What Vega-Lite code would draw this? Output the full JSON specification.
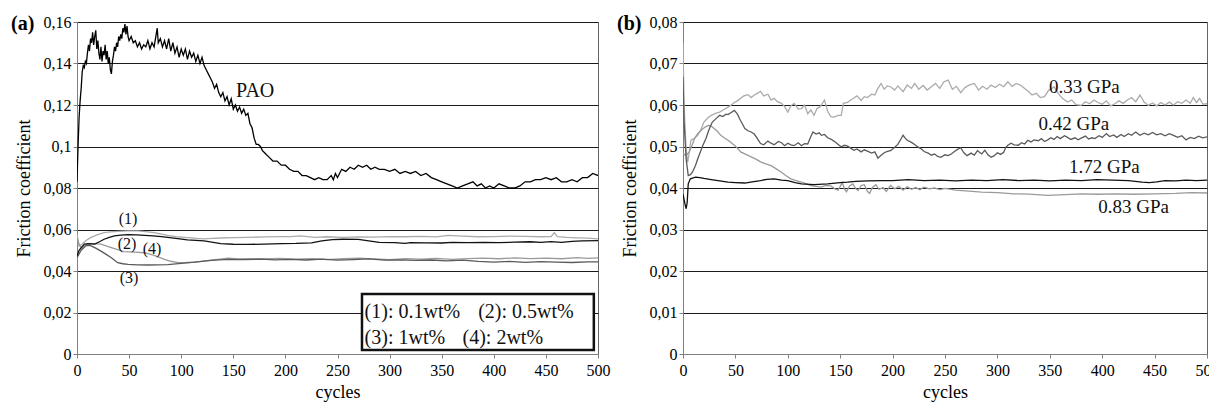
{
"$schema": "https://vega.github.io/schema/vega-lite/v6.json",
"background": "white",
"padding": {"left": 10, "top": 13, "right": 0, "bottom": 0},
"spacing": 5,
"config": {
  "view": {"stroke": "#666", "strokeWidth": 1},
  "font": "'Liberation Serif', 'Times New Roman', serif",
  "axis": {"labelFont": "'Liberation Serif', 'Times New Roman', serif", "titleFont": "'Liberation Serif', 'Times New Roman', serif", "labelFontSize": 16, "titleFontSize": 18, "titleFontWeight": "normal", "labelColor": "#000", "titleColor": "#000", "domainColor": "#808080", "tickColor": "#808080", "tickSize": 4, "gridColor": "#1a1a1a", "gridOpacity": 1, "gridWidth": 1},
  "title": {"font": "'Liberation Serif', 'Times New Roman', serif", "fontSize": 20, "fontWeight": "bold", "anchor": "start", "frame": "bounds", "color": "#000"},
  "text": {"font": "'Liberation Serif', 'Times New Roman', serif"}
},
"datasets": {
  "a": [
{"s":"P1","c":0,"f":0.0576},{"s":"P1","c":2,"f":0.052},{"s":"P1","c":5,"f":0.053},{"s":"P1","c":9,"f":0.0548},{"s":"P1","c":13,"f":0.0561},{"s":"P1","c":18,"f":0.0572},{"s":"P1","c":22,"f":0.0579},{"s":"P1","c":26,"f":0.0585},{"s":"P1","c":32,"f":0.0589},{"s":"P1","c":39,"f":0.0591},{"s":"P1","c":48,"f":0.0593},{"s":"P1","c":58,"f":0.0593},{"s":"P1","c":66,"f":0.059},{"s":"P1","c":74,"f":0.0585},{"s":"P1","c":80,"f":0.0579},{"s":"P1","c":87,"f":0.0572},{"s":"P1","c":95,"f":0.0566},{"s":"P1","c":106,"f":0.0561},{"s":"P1","c":115,"f":0.0557},{"s":"P1","c":122,"f":0.0555},{"s":"P1","c":130,"f":0.0557},{"s":"P1","c":138,"f":0.0559},{"s":"P1","c":150,"f":0.0561},{"s":"P1","c":164,"f":0.0562},{"s":"P1","c":180,"f":0.0564},{"s":"P1","c":195,"f":0.0566},{"s":"P1","c":205,"f":0.0566},{"s":"P1","c":215,"f":0.0569},{"s":"P1","c":228,"f":0.0562},{"s":"P1","c":240,"f":0.0565},{"s":"P1","c":255,"f":0.0562},{"s":"P1","c":270,"f":0.0564},{"s":"P1","c":285,"f":0.0563},{"s":"P1","c":300,"f":0.0566},{"s":"P1","c":315,"f":0.0565},{"s":"P1","c":330,"f":0.0567},{"s":"P1","c":345,"f":0.0564},{"s":"P1","c":356,"f":0.0572},{"s":"P1","c":370,"f":0.0568},{"s":"P1","c":385,"f":0.0565},{"s":"P1","c":400,"f":0.0566},{"s":"P1","c":415,"f":0.0568},{"s":"P1","c":430,"f":0.0567},{"s":"P1","c":445,"f":0.0565},{"s":"P1","c":455,"f":0.0566},{"s":"P1","c":458,"f":0.0585},{"s":"P1","c":461,"f":0.0566},{"s":"P1","c":470,"f":0.0562},{"s":"P1","c":480,"f":0.056},{"s":"P1","c":490,"f":0.0558},{"s":"P1","c":500,"f":0.0555},
{"s":"P4","c":0,"f":0.056},{"s":"P4","c":2,"f":0.053},{"s":"P4","c":4,"f":0.0512},{"s":"P4","c":10,"f":0.053},{"s":"P4","c":16,"f":0.0532},{"s":"P4","c":23,"f":0.053},{"s":"P4","c":30,"f":0.0518},{"s":"P4","c":36,"f":0.0508},{"s":"P4","c":45,"f":0.0493},{"s":"P4","c":55,"f":0.0491},{"s":"P4","c":65,"f":0.0488},{"s":"P4","c":74,"f":0.0475},{"s":"P4","c":84,"f":0.0456},{"s":"P4","c":90,"f":0.0447},{"s":"P4","c":97,"f":0.044},{"s":"P4","c":105,"f":0.0441},{"s":"P4","c":113,"f":0.0443},{"s":"P4","c":129,"f":0.0452},{"s":"P4","c":145,"f":0.0462},{"s":"P4","c":155,"f":0.0458},{"s":"P4","c":164,"f":0.046},{"s":"P4","c":180,"f":0.0458},{"s":"P4","c":195,"f":0.0461},{"s":"P4","c":210,"f":0.0457},{"s":"P4","c":225,"f":0.046},{"s":"P4","c":240,"f":0.0455},{"s":"P4","c":255,"f":0.0459},{"s":"P4","c":270,"f":0.0462},{"s":"P4","c":285,"f":0.0458},{"s":"P4","c":300,"f":0.0455},{"s":"P4","c":315,"f":0.046},{"s":"P4","c":330,"f":0.0457},{"s":"P4","c":345,"f":0.0461},{"s":"P4","c":360,"f":0.0456},{"s":"P4","c":375,"f":0.046},{"s":"P4","c":390,"f":0.0462},{"s":"P4","c":405,"f":0.0459},{"s":"P4","c":420,"f":0.0463},{"s":"P4","c":435,"f":0.046},{"s":"P4","c":450,"f":0.0462},{"s":"P4","c":465,"f":0.0459},{"s":"P4","c":480,"f":0.0464},{"s":"P4","c":490,"f":0.0461},{"s":"P4","c":500,"f":0.0463},
{"s":"P3","c":0,"f":0.0464},{"s":"P3","c":4,"f":0.05},{"s":"P3","c":9,"f":0.0524},{"s":"P3","c":13,"f":0.0522},{"s":"P3","c":18,"f":0.051},{"s":"P3","c":23,"f":0.0496},{"s":"P3","c":28,"f":0.048},{"s":"P3","c":33,"f":0.0464},{"s":"P3","c":39,"f":0.044},{"s":"P3","c":44,"f":0.0435},{"s":"P3","c":49,"f":0.0432},{"s":"P3","c":58,"f":0.043},{"s":"P3","c":68,"f":0.0429},{"s":"P3","c":78,"f":0.043},{"s":"P3","c":87,"f":0.0431},{"s":"P3","c":100,"f":0.0437},{"s":"P3","c":113,"f":0.0443},{"s":"P3","c":129,"f":0.0451},{"s":"P3","c":145,"f":0.0456},{"s":"P3","c":160,"f":0.0455},{"s":"P3","c":177,"f":0.0457},{"s":"P3","c":190,"f":0.0454},{"s":"P3","c":205,"f":0.0456},{"s":"P3","c":220,"f":0.0453},{"s":"P3","c":235,"f":0.0457},{"s":"P3","c":250,"f":0.0452},{"s":"P3","c":265,"f":0.0455},{"s":"P3","c":280,"f":0.0458},{"s":"P3","c":295,"f":0.0452},{"s":"P3","c":310,"f":0.0454},{"s":"P3","c":325,"f":0.0451},{"s":"P3","c":340,"f":0.0453},{"s":"P3","c":355,"f":0.0449},{"s":"P3","c":370,"f":0.0452},{"s":"P3","c":385,"f":0.0446},{"s":"P3","c":400,"f":0.0443},{"s":"P3","c":415,"f":0.0446},{"s":"P3","c":430,"f":0.0442},{"s":"P3","c":445,"f":0.0445},{"s":"P3","c":460,"f":0.0443},{"s":"P3","c":475,"f":0.0441},{"s":"P3","c":490,"f":0.0444},{"s":"P3","c":500,"f":0.0444},
{"s":"P2","c":0,"f":0.0472},{"s":"P2","c":2,"f":0.05},{"s":"P2","c":7,"f":0.053},{"s":"P2","c":12,"f":0.0532},{"s":"P2","c":17,"f":0.053},{"s":"P2","c":22,"f":0.0542},{"s":"P2","c":26,"f":0.0553},{"s":"P2","c":31,"f":0.0562},{"s":"P2","c":36,"f":0.0569},{"s":"P2","c":42,"f":0.0573},{"s":"P2","c":49,"f":0.0575},{"s":"P2","c":57,"f":0.0574},{"s":"P2","c":65,"f":0.0572},{"s":"P2","c":73,"f":0.0569},{"s":"P2","c":81,"f":0.0566},{"s":"P2","c":93,"f":0.0558},{"s":"P2","c":106,"f":0.055},{"s":"P2","c":122,"f":0.0545},{"s":"P2","c":138,"f":0.0532},{"s":"P2","c":150,"f":0.0529},{"s":"P2","c":164,"f":0.0528},{"s":"P2","c":180,"f":0.053},{"s":"P2","c":196,"f":0.0532},{"s":"P2","c":210,"f":0.0533},{"s":"P2","c":225,"f":0.0536},{"s":"P2","c":235,"f":0.0545},{"s":"P2","c":245,"f":0.0551},{"s":"P2","c":255,"f":0.0553},{"s":"P2","c":270,"f":0.0552},{"s":"P2","c":280,"f":0.0545},{"s":"P2","c":290,"f":0.0538},{"s":"P2","c":305,"f":0.0537},{"s":"P2","c":315,"f":0.0533},{"s":"P2","c":320,"f":0.0537},{"s":"P2","c":335,"f":0.0536},{"s":"P2","c":350,"f":0.0535},{"s":"P2","c":360,"f":0.0538},{"s":"P2","c":375,"f":0.0537},{"s":"P2","c":390,"f":0.0538},{"s":"P2","c":405,"f":0.0537},{"s":"P2","c":420,"f":0.0539},{"s":"P2","c":435,"f":0.0541},{"s":"P2","c":445,"f":0.0538},{"s":"P2","c":455,"f":0.0542},{"s":"P2","c":465,"f":0.0538},{"s":"P2","c":475,"f":0.0543},{"s":"P2","c":485,"f":0.0545},{"s":"P2","c":500,"f":0.0546},
{"s":"PAO","c":0,"f":0.083},{"s":"PAO","c":1,"f":0.1},{"s":"PAO","c":2,"f":0.114},{"s":"PAO","c":3,"f":0.122},{"s":"PAO","c":4,"f":0.128},{"s":"PAO","c":5,"f":0.136},{"s":"PAO","c":6,"f":0.139},{"s":"PAO","c":7,"f":0.138},{"s":"PAO","c":8,"f":0.141},{"s":"PAO","c":9,"f":0.14},{"s":"PAO","c":10,"f":0.145},{"s":"PAO","c":11,"f":0.149},{"s":"PAO","c":12,"f":0.146},{"s":"PAO","c":13,"f":0.152},{"s":"PAO","c":14,"f":0.15},{"s":"PAO","c":15,"f":0.155},{"s":"PAO","c":16,"f":0.149},{"s":"PAO","c":17,"f":0.153},{"s":"PAO","c":18,"f":0.156},{"s":"PAO","c":19,"f":0.147},{"s":"PAO","c":20,"f":0.151},{"s":"PAO","c":21,"f":0.145},{"s":"PAO","c":22,"f":0.142},{"s":"PAO","c":23,"f":0.148},{"s":"PAO","c":24,"f":0.141},{"s":"PAO","c":25,"f":0.146},{"s":"PAO","c":26,"f":0.144},{"s":"PAO","c":27,"f":0.149},{"s":"PAO","c":28,"f":0.142},{"s":"PAO","c":29,"f":0.146},{"s":"PAO","c":30,"f":0.14},{"s":"PAO","c":31,"f":0.143},{"s":"PAO","c":32,"f":0.137},{"s":"PAO","c":33,"f":0.135},{"s":"PAO","c":34,"f":0.141},{"s":"PAO","c":35,"f":0.144},{"s":"PAO","c":36,"f":0.148},{"s":"PAO","c":37,"f":0.146},{"s":"PAO","c":38,"f":0.15},{"s":"PAO","c":39,"f":0.148},{"s":"PAO","c":40,"f":0.153},{"s":"PAO","c":41,"f":0.151},{"s":"PAO","c":42,"f":0.154},{"s":"PAO","c":43,"f":0.152},{"s":"PAO","c":44,"f":0.157},{"s":"PAO","c":45,"f":0.155},{"s":"PAO","c":46,"f":0.159},{"s":"PAO","c":47,"f":0.154},{"s":"PAO","c":48,"f":0.158},{"s":"PAO","c":49,"f":0.153},{"s":"PAO","c":50,"f":0.151},{"s":"PAO","c":52,"f":0.153},{"s":"PAO","c":54,"f":0.15},{"s":"PAO","c":56,"f":0.151},{"s":"PAO","c":58,"f":0.148},{"s":"PAO","c":60,"f":0.15},{"s":"PAO","c":62,"f":0.147},{"s":"PAO","c":64,"f":0.149},{"s":"PAO","c":66,"f":0.148},{"s":"PAO","c":68,"f":0.151},{"s":"PAO","c":70,"f":0.147},{"s":"PAO","c":72,"f":0.15},{"s":"PAO","c":74,"f":0.148},{"s":"PAO","c":76,"f":0.154},{"s":"PAO","c":77,"f":0.157},{"s":"PAO","c":78,"f":0.15},{"s":"PAO","c":80,"f":0.152},{"s":"PAO","c":82,"f":0.148},{"s":"PAO","c":84,"f":0.151},{"s":"PAO","c":86,"f":0.147},{"s":"PAO","c":88,"f":0.152},{"s":"PAO","c":90,"f":0.146},{"s":"PAO","c":92,"f":0.15},{"s":"PAO","c":94,"f":0.145},{"s":"PAO","c":96,"f":0.148},{"s":"PAO","c":98,"f":0.143},{"s":"PAO","c":100,"f":0.147},{"s":"PAO","c":102,"f":0.144},{"s":"PAO","c":104,"f":0.147},{"s":"PAO","c":106,"f":0.142},{"s":"PAO","c":108,"f":0.146},{"s":"PAO","c":110,"f":0.143},{"s":"PAO","c":112,"f":0.145},{"s":"PAO","c":114,"f":0.141},{"s":"PAO","c":116,"f":0.144},{"s":"PAO","c":118,"f":0.14},{"s":"PAO","c":120,"f":0.143},{"s":"PAO","c":122,"f":0.139},{"s":"PAO","c":124,"f":0.137},{"s":"PAO","c":126,"f":0.135},{"s":"PAO","c":128,"f":0.133},{"s":"PAO","c":130,"f":0.131},{"s":"PAO","c":132,"f":0.128},{"s":"PAO","c":134,"f":0.13},{"s":"PAO","c":136,"f":0.126},{"s":"PAO","c":138,"f":0.124},{"s":"PAO","c":140,"f":0.126},{"s":"PAO","c":142,"f":0.122},{"s":"PAO","c":144,"f":0.124},{"s":"PAO","c":146,"f":0.12},{"s":"PAO","c":148,"f":0.123},{"s":"PAO","c":150,"f":0.118},{"s":"PAO","c":152,"f":0.12},{"s":"PAO","c":154,"f":0.117},{"s":"PAO","c":156,"f":0.119},{"s":"PAO","c":158,"f":0.116},{"s":"PAO","c":160,"f":0.118},{"s":"PAO","c":162,"f":0.115},{"s":"PAO","c":164,"f":0.116},{"s":"PAO","c":166,"f":0.111},{"s":"PAO","c":168,"f":0.109},{"s":"PAO","c":170,"f":0.104},{"s":"PAO","c":172,"f":0.101},{"s":"PAO","c":174,"f":0.101},{"s":"PAO","c":176,"f":0.1},{"s":"PAO","c":178,"f":0.098},{"s":"PAO","c":180,"f":0.097},{"s":"PAO","c":184,"f":0.095},{"s":"PAO","c":188,"f":0.093},{"s":"PAO","c":192,"f":0.093},{"s":"PAO","c":196,"f":0.091},{"s":"PAO","c":200,"f":0.091},{"s":"PAO","c":204,"f":0.089},{"s":"PAO","c":208,"f":0.088},{"s":"PAO","c":212,"f":0.088},{"s":"PAO","c":216,"f":0.086},{"s":"PAO","c":220,"f":0.086},{"s":"PAO","c":224,"f":0.085},{"s":"PAO","c":228,"f":0.084},{"s":"PAO","c":232,"f":0.085},{"s":"PAO","c":236,"f":0.084},{"s":"PAO","c":240,"f":0.084},{"s":"PAO","c":244,"f":0.086},{"s":"PAO","c":246,"f":0.084},{"s":"PAO","c":248,"f":0.087},{"s":"PAO","c":250,"f":0.085},{"s":"PAO","c":254,"f":0.089},{"s":"PAO","c":258,"f":0.088},{"s":"PAO","c":262,"f":0.09},{"s":"PAO","c":266,"f":0.089},{"s":"PAO","c":270,"f":0.091},{"s":"PAO","c":274,"f":0.09},{"s":"PAO","c":278,"f":0.091},{"s":"PAO","c":282,"f":0.089},{"s":"PAO","c":286,"f":0.09},{"s":"PAO","c":290,"f":0.089},{"s":"PAO","c":295,"f":0.089},{"s":"PAO","c":300,"f":0.088},{"s":"PAO","c":305,"f":0.089},{"s":"PAO","c":310,"f":0.087},{"s":"PAO","c":315,"f":0.088},{"s":"PAO","c":320,"f":0.087},{"s":"PAO","c":325,"f":0.088},{"s":"PAO","c":330,"f":0.086},{"s":"PAO","c":335,"f":0.087},{"s":"PAO","c":340,"f":0.085},{"s":"PAO","c":345,"f":0.084},{"s":"PAO","c":350,"f":0.083},{"s":"PAO","c":355,"f":0.082},{"s":"PAO","c":360,"f":0.081},{"s":"PAO","c":365,"f":0.08},{"s":"PAO","c":370,"f":0.081},{"s":"PAO","c":375,"f":0.082},{"s":"PAO","c":380,"f":0.083},{"s":"PAO","c":384,"f":0.081},{"s":"PAO","c":388,"f":0.082},{"s":"PAO","c":392,"f":0.08},{"s":"PAO","c":396,"f":0.081},{"s":"PAO","c":400,"f":0.08},{"s":"PAO","c":405,"f":0.082},{"s":"PAO","c":410,"f":0.081},{"s":"PAO","c":415,"f":0.08},{"s":"PAO","c":420,"f":0.08},{"s":"PAO","c":425,"f":0.081},{"s":"PAO","c":430,"f":0.083},{"s":"PAO","c":435,"f":0.083},{"s":"PAO","c":440,"f":0.084},{"s":"PAO","c":445,"f":0.084},{"s":"PAO","c":450,"f":0.085},{"s":"PAO","c":455,"f":0.084},{"s":"PAO","c":460,"f":0.085},{"s":"PAO","c":465,"f":0.083},{"s":"PAO","c":470,"f":0.083},{"s":"PAO","c":475,"f":0.084},{"s":"PAO","c":480,"f":0.083},{"s":"PAO","c":485,"f":0.085},{"s":"PAO","c":490,"f":0.085},{"s":"PAO","c":495,"f":0.087},{"s":"PAO","c":500,"f":0.086}
  ],
  "aLabels": [
    {"t":"PAO","c":171,"f":0.1267,"size":"big"},
    {"t":"(1)","c":49,"f":0.065,"size":"small"},
    {"t":"(2)","c":48,"f":0.053,"size":"small"},
    {"t":"(4)","c":72,"f":0.0506,"size":"small"},
    {"t":"(3)","c":50,"f":0.0366,"size":"small"}
  ],
  "aBox": [{"c":273.5,"c2":496,"f":0.0289,"f2":0.0019}],
  "aLegend": [
    {"t":"(1): 0.1wt%","c":276,"f":0.0202},
    {"t":"(2): 0.5wt%","c":385,"f":0.0202},
    {"t":"(3): 1wt%","c":276,"f":0.0077},
    {"t":"(4): 2wt%","c":370,"f":0.0077}
  ],
  "b": [
{"s":"0.33","c":0,"f":0.075},{"s":"0.33","c":1,"f":0.06},{"s":"0.33","c":3,"f":0.049},{"s":"0.33","c":4.5,"f":0.0462},{"s":"0.33","c":7.6,"f":0.0515},{"s":"0.33","c":11,"f":0.052},{"s":"0.33","c":14,"f":0.0527},{"s":"0.33","c":17,"f":0.054},{"s":"0.33","c":20,"f":0.0559},{"s":"0.33","c":24,"f":0.057},{"s":"0.33","c":27,"f":0.0575},{"s":"0.33","c":31,"f":0.058},{"s":"0.33","c":35,"f":0.0583},{"s":"0.33","c":39,"f":0.0589},{"s":"0.33","c":43,"f":0.0595},{"s":"0.33","c":46,"f":0.06},{"s":"0.33","c":49,"f":0.0606},{"s":"0.33","c":52,"f":0.061},{"s":"0.33","c":55,"f":0.0616},{"s":"0.33","c":58,"f":0.0622},{"s":"0.33","c":62,"f":0.0625},{"s":"0.33","c":65,"f":0.0618},{"s":"0.33","c":68,"f":0.0624},{"s":"0.33","c":71,"f":0.0628},{"s":"0.33","c":74,"f":0.0633},{"s":"0.33","c":77,"f":0.0622},{"s":"0.33","c":81,"f":0.0626},{"s":"0.33","c":84,"f":0.0612},{"s":"0.33","c":87,"f":0.0616},{"s":"0.33","c":90,"f":0.0608},{"s":"0.33","c":94,"f":0.0604},{"s":"0.33","c":97,"f":0.0596},{"s":"0.33","c":100,"f":0.0583},{"s":"0.33","c":103,"f":0.0598},{"s":"0.33","c":106,"f":0.0604},{"s":"0.33","c":110,"f":0.059},{"s":"0.33","c":113,"f":0.0591},{"s":"0.33","c":116,"f":0.06},{"s":"0.33","c":119,"f":0.0579},{"s":"0.33","c":122,"f":0.0588},{"s":"0.33","c":125,"f":0.0575},{"s":"0.33","c":128,"f":0.0592},{"s":"0.33","c":131,"f":0.0596},{"s":"0.33","c":135,"f":0.0612},{"s":"0.33","c":138,"f":0.0585},{"s":"0.33","c":141,"f":0.0572},{"s":"0.33","c":144,"f":0.0571},{"s":"0.33","c":148,"f":0.0575},{"s":"0.33","c":151,"f":0.0575},{"s":"0.33","c":153,"f":0.0604},{"s":"0.33","c":157,"f":0.0606},{"s":"0.33","c":160,"f":0.0612},{"s":"0.33","c":163,"f":0.0617},{"s":"0.33","c":166,"f":0.0622},{"s":"0.33","c":170,"f":0.0611},{"s":"0.33","c":173,"f":0.062},{"s":"0.33","c":176,"f":0.0618},{"s":"0.33","c":180,"f":0.0626},{"s":"0.33","c":183,"f":0.0624},{"s":"0.33","c":186,"f":0.064},{"s":"0.33","c":189,"f":0.0652},{"s":"0.33","c":192,"f":0.0638},{"s":"0.33","c":195,"f":0.0646},{"s":"0.33","c":198,"f":0.0644},{"s":"0.33","c":202,"f":0.0636},{"s":"0.33","c":205,"f":0.0646},{"s":"0.33","c":210,"f":0.0632},{"s":"0.33","c":214,"f":0.0648},{"s":"0.33","c":218,"f":0.064},{"s":"0.33","c":221,"f":0.0652},{"s":"0.33","c":225,"f":0.0638},{"s":"0.33","c":229,"f":0.0647},{"s":"0.33","c":233,"f":0.0636},{"s":"0.33","c":237,"f":0.0644},{"s":"0.33","c":241,"f":0.0652},{"s":"0.33","c":245,"f":0.064},{"s":"0.33","c":249,"f":0.0656},{"s":"0.33","c":253,"f":0.066},{"s":"0.33","c":257,"f":0.0638},{"s":"0.33","c":261,"f":0.0645},{"s":"0.33","c":265,"f":0.063},{"s":"0.33","c":269,"f":0.0642},{"s":"0.33","c":273,"f":0.0648},{"s":"0.33","c":278,"f":0.0652},{"s":"0.33","c":282,"f":0.0636},{"s":"0.33","c":286,"f":0.0645},{"s":"0.33","c":290,"f":0.0638},{"s":"0.33","c":294,"f":0.0648},{"s":"0.33","c":298,"f":0.0642},{"s":"0.33","c":302,"f":0.065},{"s":"0.33","c":306,"f":0.0644},{"s":"0.33","c":310,"f":0.0656},{"s":"0.33","c":314,"f":0.0645},{"s":"0.33","c":318,"f":0.0652},{"s":"0.33","c":322,"f":0.0648},{"s":"0.33","c":326,"f":0.064},{"s":"0.33","c":330,"f":0.0632},{"s":"0.33","c":333,"f":0.0624},{"s":"0.33","c":337,"f":0.0628},{"s":"0.33","c":341,"f":0.0618},{"s":"0.33","c":345,"f":0.062},{"s":"0.33","c":349,"f":0.0636},{"s":"0.33","c":352,"f":0.064},{"s":"0.33","c":354,"f":0.0644},{"s":"0.33","c":358,"f":0.0628},{"s":"0.33","c":362,"f":0.0616},{"s":"0.33","c":367,"f":0.0607},{"s":"0.33","c":371,"f":0.0612},{"s":"0.33","c":375,"f":0.0601},{"s":"0.33","c":380,"f":0.0599},{"s":"0.33","c":384,"f":0.0608},{"s":"0.33","c":388,"f":0.0603},{"s":"0.33","c":392,"f":0.0612},{"s":"0.33","c":396,"f":0.0606},{"s":"0.33","c":400,"f":0.0602},{"s":"0.33","c":404,"f":0.061},{"s":"0.33","c":408,"f":0.0598},{"s":"0.33","c":412,"f":0.0603},{"s":"0.33","c":416,"f":0.061},{"s":"0.33","c":420,"f":0.0604},{"s":"0.33","c":424,"f":0.0612},{"s":"0.33","c":428,"f":0.0618},{"s":"0.33","c":432,"f":0.0608},{"s":"0.33","c":436,"f":0.0624},{"s":"0.33","c":440,"f":0.0607},{"s":"0.33","c":444,"f":0.0599},{"s":"0.33","c":448,"f":0.0605},{"s":"0.33","c":452,"f":0.0598},{"s":"0.33","c":456,"f":0.0606},{"s":"0.33","c":460,"f":0.06},{"s":"0.33","c":464,"f":0.0607},{"s":"0.33","c":468,"f":0.06},{"s":"0.33","c":472,"f":0.0608},{"s":"0.33","c":476,"f":0.0604},{"s":"0.33","c":480,"f":0.0612},{"s":"0.33","c":484,"f":0.0604},{"s":"0.33","c":487,"f":0.0618},{"s":"0.33","c":490,"f":0.0606},{"s":"0.33","c":493,"f":0.0616},{"s":"0.33","c":496,"f":0.0602},{"s":"0.33","c":500,"f":0.0603},
{"s":"0.83","c":0,"f":0.0482},{"s":"0.83","c":3,"f":0.0479},{"s":"0.83","c":6,"f":0.0487},{"s":"0.83","c":9,"f":0.0505},{"s":"0.83","c":11,"f":0.0519},{"s":"0.83","c":14,"f":0.0531},{"s":"0.83","c":17,"f":0.0538},{"s":"0.83","c":19,"f":0.0543},{"s":"0.83","c":22,"f":0.0548},{"s":"0.83","c":24,"f":0.0551},{"s":"0.83","c":27,"f":0.0549},{"s":"0.83","c":30,"f":0.0543},{"s":"0.83","c":33,"f":0.0536},{"s":"0.83","c":36,"f":0.0527},{"s":"0.83","c":40,"f":0.052},{"s":"0.83","c":43,"f":0.0515},{"s":"0.83","c":46,"f":0.0509},{"s":"0.83","c":49,"f":0.0503},{"s":"0.83","c":52,"f":0.0496},{"s":"0.83","c":55,"f":0.0487},{"s":"0.83","c":60,"f":0.0481},{"s":"0.83","c":65,"f":0.0475},{"s":"0.83","c":70,"f":0.0469},{"s":"0.83","c":74,"f":0.0463},{"s":"0.83","c":79,"f":0.0458},{"s":"0.83","c":84,"f":0.0454},{"s":"0.83","c":89,"f":0.0446},{"s":"0.83","c":94,"f":0.0438},{"s":"0.83","c":98,"f":0.043},{"s":"0.83","c":103,"f":0.0422},{"s":"0.83","c":108,"f":0.0418},{"s":"0.83","c":113,"f":0.0414},{"s":"0.83","c":118,"f":0.041},{"s":"0.83","c":122,"f":0.0406},{"s":"0.83","c":127,"f":0.0404},{"s":"0.83","c":132,"f":0.0402},{"s":"0.83","c":136,"f":0.0406},{"s":"0.83","c":141,"f":0.0405},{"s":"0.83","c":145,"f":0.0398},{"s":"0.83","c":148,"f":0.0395},{"s":"0.83","c":150,"f":0.0404},{"s":"0.83","c":152,"f":0.0413},{"s":"0.83","c":154,"f":0.0398},{"s":"0.83","c":156,"f":0.0391},{"s":"0.83","c":159,"f":0.0405},{"s":"0.83","c":162,"f":0.041},{"s":"0.83","c":165,"f":0.0398},{"s":"0.83","c":167,"f":0.0394},{"s":"0.83","c":170,"f":0.0406},{"s":"0.83","c":173,"f":0.0408},{"s":"0.83","c":176,"f":0.0392},{"s":"0.83","c":178,"f":0.0387},{"s":"0.83","c":181,"f":0.0402},{"s":"0.83","c":184,"f":0.0408},{"s":"0.83","c":187,"f":0.0397},{"s":"0.83","c":191,"f":0.0401},{"s":"0.83","c":194,"f":0.0392},{"s":"0.83","c":198,"f":0.0406},{"s":"0.83","c":202,"f":0.0398},{"s":"0.83","c":206,"f":0.0404},{"s":"0.83","c":210,"f":0.0395},{"s":"0.83","c":214,"f":0.0403},{"s":"0.83","c":218,"f":0.0397},{"s":"0.83","c":222,"f":0.0401},{"s":"0.83","c":226,"f":0.0396},{"s":"0.83","c":230,"f":0.0402},{"s":"0.83","c":235,"f":0.0398},{"s":"0.83","c":240,"f":0.04},{"s":"0.83","c":245,"f":0.0396},{"s":"0.83","c":250,"f":0.0399},{"s":"0.83","c":260,"f":0.0395},{"s":"0.83","c":270,"f":0.0393},{"s":"0.83","c":285,"f":0.039},{"s":"0.83","c":300,"f":0.0389},{"s":"0.83","c":316,"f":0.0386},{"s":"0.83","c":330,"f":0.0385},{"s":"0.83","c":348,"f":0.0382},{"s":"0.83","c":365,"f":0.0384},{"s":"0.83","c":380,"f":0.0386},{"s":"0.83","c":395,"f":0.0385},{"s":"0.83","c":412,"f":0.0386},{"s":"0.83","c":430,"f":0.0385},{"s":"0.83","c":450,"f":0.0386},{"s":"0.83","c":470,"f":0.0387},{"s":"0.83","c":485,"f":0.0389},{"s":"0.83","c":500,"f":0.0388},
{"s":"0.42","c":0,"f":0.0668},{"s":"0.42","c":1,"f":0.056},{"s":"0.42","c":3,"f":0.047},{"s":"0.42","c":5,"f":0.043},{"s":"0.42","c":7,"f":0.0432},{"s":"0.42","c":9,"f":0.0438},{"s":"0.42","c":12,"f":0.0455},{"s":"0.42","c":14,"f":0.047},{"s":"0.42","c":17,"f":0.049},{"s":"0.42","c":19,"f":0.0503},{"s":"0.42","c":22,"f":0.052},{"s":"0.42","c":24,"f":0.0535},{"s":"0.42","c":26,"f":0.0548},{"s":"0.42","c":28,"f":0.0559},{"s":"0.42","c":31,"f":0.0566},{"s":"0.42","c":35,"f":0.0575},{"s":"0.42","c":38,"f":0.0572},{"s":"0.42","c":41,"f":0.0578},{"s":"0.42","c":43,"f":0.0577},{"s":"0.42","c":46,"f":0.0582},{"s":"0.42","c":49,"f":0.0587},{"s":"0.42","c":52,"f":0.0578},{"s":"0.42","c":54,"f":0.0567},{"s":"0.42","c":57,"f":0.0553},{"s":"0.42","c":59,"f":0.0543},{"s":"0.42","c":62,"f":0.0538},{"s":"0.42","c":65,"f":0.0535},{"s":"0.42","c":68,"f":0.053},{"s":"0.42","c":71,"f":0.0519},{"s":"0.42","c":74,"f":0.0507},{"s":"0.42","c":77,"f":0.0504},{"s":"0.42","c":81,"f":0.0513},{"s":"0.42","c":84,"f":0.0508},{"s":"0.42","c":87,"f":0.0504},{"s":"0.42","c":91,"f":0.0512},{"s":"0.42","c":94,"f":0.0509},{"s":"0.42","c":97,"f":0.0502},{"s":"0.42","c":100,"f":0.0508},{"s":"0.42","c":103,"f":0.0504},{"s":"0.42","c":106,"f":0.0502},{"s":"0.42","c":110,"f":0.0509},{"s":"0.42","c":113,"f":0.0502},{"s":"0.42","c":116,"f":0.0507},{"s":"0.42","c":119,"f":0.0506},{"s":"0.42","c":122,"f":0.0524},{"s":"0.42","c":124,"f":0.0535},{"s":"0.42","c":127,"f":0.053},{"s":"0.42","c":130,"f":0.0533},{"s":"0.42","c":132,"f":0.0527},{"s":"0.42","c":135,"f":0.0529},{"s":"0.42","c":138,"f":0.0521},{"s":"0.42","c":141,"f":0.0518},{"s":"0.42","c":144,"f":0.0513},{"s":"0.42","c":147,"f":0.0507},{"s":"0.42","c":151,"f":0.0499},{"s":"0.42","c":154,"f":0.0503},{"s":"0.42","c":157,"f":0.0501},{"s":"0.42","c":160,"f":0.0496},{"s":"0.42","c":163,"f":0.0491},{"s":"0.42","c":166,"f":0.0494},{"s":"0.42","c":170,"f":0.0487},{"s":"0.42","c":173,"f":0.0492},{"s":"0.42","c":176,"f":0.0489},{"s":"0.42","c":180,"f":0.0484},{"s":"0.42","c":183,"f":0.0487},{"s":"0.42","c":186,"f":0.0472},{"s":"0.42","c":189,"f":0.0479},{"s":"0.42","c":192,"f":0.0485},{"s":"0.42","c":195,"f":0.0488},{"s":"0.42","c":198,"f":0.049},{"s":"0.42","c":202,"f":0.0498},{"s":"0.42","c":205,"f":0.0505},{"s":"0.42","c":208,"f":0.0518},{"s":"0.42","c":210,"f":0.0527},{"s":"0.42","c":212,"f":0.052},{"s":"0.42","c":214,"f":0.0515},{"s":"0.42","c":218,"f":0.051},{"s":"0.42","c":221,"f":0.0505},{"s":"0.42","c":224,"f":0.0499},{"s":"0.42","c":227,"f":0.0495},{"s":"0.42","c":230,"f":0.0488},{"s":"0.42","c":234,"f":0.0484},{"s":"0.42","c":237,"f":0.0479},{"s":"0.42","c":240,"f":0.0482},{"s":"0.42","c":243,"f":0.0476},{"s":"0.42","c":246,"f":0.0474},{"s":"0.42","c":250,"f":0.048},{"s":"0.42","c":253,"f":0.0478},{"s":"0.42","c":256,"f":0.0482},{"s":"0.42","c":259,"f":0.0488},{"s":"0.42","c":262,"f":0.0493},{"s":"0.42","c":265,"f":0.0497},{"s":"0.42","c":268,"f":0.0485},{"s":"0.42","c":271,"f":0.0478},{"s":"0.42","c":275,"f":0.0484},{"s":"0.42","c":278,"f":0.0479},{"s":"0.42","c":281,"f":0.049},{"s":"0.42","c":285,"f":0.0482},{"s":"0.42","c":288,"f":0.0491},{"s":"0.42","c":291,"f":0.048},{"s":"0.42","c":294,"f":0.0474},{"s":"0.42","c":297,"f":0.0478},{"s":"0.42","c":300,"f":0.0485},{"s":"0.42","c":303,"f":0.0481},{"s":"0.42","c":306,"f":0.0486},{"s":"0.42","c":308,"f":0.0498},{"s":"0.42","c":310,"f":0.0503},{"s":"0.42","c":313,"f":0.0508},{"s":"0.42","c":316,"f":0.0504},{"s":"0.42","c":320,"f":0.0503},{"s":"0.42","c":323,"f":0.0509},{"s":"0.42","c":326,"f":0.0506},{"s":"0.42","c":329,"f":0.0515},{"s":"0.42","c":332,"f":0.0511},{"s":"0.42","c":335,"f":0.0516},{"s":"0.42","c":339,"f":0.0514},{"s":"0.42","c":342,"f":0.0519},{"s":"0.42","c":345,"f":0.0512},{"s":"0.42","c":348,"f":0.0516},{"s":"0.42","c":351,"f":0.0521},{"s":"0.42","c":354,"f":0.0517},{"s":"0.42","c":357,"f":0.0524},{"s":"0.42","c":360,"f":0.0519},{"s":"0.42","c":364,"f":0.0526},{"s":"0.42","c":367,"f":0.0522},{"s":"0.42","c":370,"f":0.0517},{"s":"0.42","c":374,"f":0.0521},{"s":"0.42","c":377,"f":0.0516},{"s":"0.42","c":380,"f":0.052},{"s":"0.42","c":384,"f":0.0525},{"s":"0.42","c":387,"f":0.0518},{"s":"0.42","c":390,"f":0.0521},{"s":"0.42","c":393,"f":0.0519},{"s":"0.42","c":397,"f":0.0526},{"s":"0.42","c":400,"f":0.0522},{"s":"0.42","c":404,"f":0.0531},{"s":"0.42","c":407,"f":0.0524},{"s":"0.42","c":411,"f":0.0528},{"s":"0.42","c":414,"f":0.0522},{"s":"0.42","c":418,"f":0.0529},{"s":"0.42","c":421,"f":0.0524},{"s":"0.42","c":425,"f":0.0531},{"s":"0.42","c":428,"f":0.0527},{"s":"0.42","c":432,"f":0.0535},{"s":"0.42","c":436,"f":0.0527},{"s":"0.42","c":440,"f":0.0532},{"s":"0.42","c":444,"f":0.0528},{"s":"0.42","c":448,"f":0.0534},{"s":"0.42","c":452,"f":0.0528},{"s":"0.42","c":456,"f":0.0531},{"s":"0.42","c":460,"f":0.0526},{"s":"0.42","c":464,"f":0.0531},{"s":"0.42","c":468,"f":0.0527},{"s":"0.42","c":472,"f":0.0522},{"s":"0.42","c":476,"f":0.0526},{"s":"0.42","c":480,"f":0.0516},{"s":"0.42","c":484,"f":0.0522},{"s":"0.42","c":488,"f":0.0519},{"s":"0.42","c":492,"f":0.0525},{"s":"0.42","c":496,"f":0.0521},{"s":"0.42","c":500,"f":0.0523},
{"s":"1.72","c":0,"f":0.0385},{"s":"1.72","c":2,"f":0.036},{"s":"1.72","c":3,"f":0.035},{"s":"1.72","c":4,"f":0.0365},{"s":"1.72","c":5,"f":0.041},{"s":"1.72","c":7,"f":0.0422},{"s":"1.72","c":9,"f":0.0424},{"s":"1.72","c":12,"f":0.0426},{"s":"1.72","c":16,"f":0.0425},{"s":"1.72","c":20,"f":0.0423},{"s":"1.72","c":27,"f":0.042},{"s":"1.72","c":35,"f":0.0417},{"s":"1.72","c":43,"f":0.0414},{"s":"1.72","c":50,"f":0.0413},{"s":"1.72","c":59,"f":0.0412},{"s":"1.72","c":66,"f":0.0415},{"s":"1.72","c":74,"f":0.0418},{"s":"1.72","c":80,"f":0.0421},{"s":"1.72","c":87,"f":0.0422},{"s":"1.72","c":94,"f":0.0419},{"s":"1.72","c":100,"f":0.0418},{"s":"1.72","c":107,"f":0.0413},{"s":"1.72","c":113,"f":0.041},{"s":"1.72","c":125,"f":0.0408},{"s":"1.72","c":138,"f":0.041},{"s":"1.72","c":150,"f":0.0413},{"s":"1.72","c":157,"f":0.0414},{"s":"1.72","c":165,"f":0.0416},{"s":"1.72","c":176,"f":0.0417},{"s":"1.72","c":190,"f":0.0418},{"s":"1.72","c":200,"f":0.0418},{"s":"1.72","c":215,"f":0.042},{"s":"1.72","c":230,"f":0.0418},{"s":"1.72","c":245,"f":0.0419},{"s":"1.72","c":260,"f":0.0417},{"s":"1.72","c":275,"f":0.0419},{"s":"1.72","c":290,"f":0.0418},{"s":"1.72","c":305,"f":0.042},{"s":"1.72","c":320,"f":0.0418},{"s":"1.72","c":335,"f":0.0419},{"s":"1.72","c":350,"f":0.0417},{"s":"1.72","c":365,"f":0.0419},{"s":"1.72","c":380,"f":0.0418},{"s":"1.72","c":395,"f":0.042},{"s":"1.72","c":410,"f":0.0419},{"s":"1.72","c":425,"f":0.0418},{"s":"1.72","c":438,"f":0.0414},{"s":"1.72","c":445,"f":0.0413},{"s":"1.72","c":452,"f":0.0415},{"s":"1.72","c":460,"f":0.0418},{"s":"1.72","c":470,"f":0.0417},{"s":"1.72","c":480,"f":0.0419},{"s":"1.72","c":490,"f":0.0418},{"s":"1.72","c":500,"f":0.0419}
  ],
  "bLabels": [
    {"t":"0.33 GPa","c":383,"f":0.0643},
    {"t":"0.42 GPa","c":373,"f":0.0555},
    {"t":"1.72 GPa","c":402,"f":0.045},
    {"t":"0.83 GPa","c":430,"f":0.0354}
  ]
},
"hconcat": [
  {
    "width": 521, "height": 332,
    "title": {"text": "(a)", "dy": 20, "dx": -4, "offset": 0},
    "layer": [
      {
        "data": {"name": "a"},
        "mark": {"type": "line", "strokeWidth": 1.3, "clip": true},
        "encoding": {
          "x": {"field": "c", "type": "quantitative", "scale": {"domain": [0, 500], "nice": false},
                "axis": {"title": "cycles", "values": [0,50,100,150,200,250,300,350,400,450,500], "grid": false, "labelFlush": false, "labelPadding": 4, "titlePadding": 5}},
          "y": {"field": "f", "type": "quantitative", "scale": {"domain": [0, 0.16], "nice": false},
                "axis": {"title": "Friction coefficient", "values": [0,0.02,0.04,0.06,0.08,0.1,0.12,0.14,0.16], "grid": true, "labelPadding": 2, "titlePadding": 10, "labelExpr": "replace(format(datum.value, '.2~f'), '.', ',')"}},
          "color": {"field": "s", "type": "nominal", "scale": {"domain": ["P1","P4","P3","P2","PAO"], "range": ["#ababab","#9a9a9a","#5a5a5a","#111111","#000000"]}, "legend": null}
        }
      },
      {
        "data": {"name": "aLabels"},
        "mark": {"type": "text", "font": "'Liberation Serif', 'Times New Roman', serif", "align": "center", "baseline": "middle"},
        "encoding": {
          "x": {"field": "c", "type": "quantitative"},
          "y": {"field": "f", "type": "quantitative"},
          "text": {"field": "t"},
          "size": {"field": "size", "type": "nominal", "scale": {"domain": ["big","small"], "range": [20, 16]}, "legend": null},
          "color": {"value": "#111"}
        }
      },
      {
        "data": {"name": "aBox"},
        "mark": {"type": "rect", "fill": "white", "stroke": "#111", "strokeWidth": 2.5},
        "encoding": {
          "x": {"field": "c", "type": "quantitative"},
          "x2": {"field": "c2"},
          "y": {"field": "f", "type": "quantitative"},
          "y2": {"field": "f2"}
        }
      },
      {
        "data": {"name": "aLegend"},
        "mark": {"type": "text", "font": "'Liberation Serif', 'Times New Roman', serif", "fontSize": 20, "align": "left", "baseline": "middle", "color": "#111"},
        "encoding": {
          "x": {"field": "c", "type": "quantitative"},
          "y": {"field": "f", "type": "quantitative"},
          "text": {"field": "t"}
        }
      }
    ]
  },
  {
    "width": 524, "height": 332,
    "title": {"text": "(b)", "dy": 20, "dx": -4, "offset": 0},
    "layer": [
      {
        "data": {"name": "b"},
        "mark": {"type": "line", "strokeWidth": 1.3, "clip": true},
        "encoding": {
          "x": {"field": "c", "type": "quantitative", "scale": {"domain": [0, 500], "nice": false},
                "axis": {"title": "cycles", "values": [0,50,100,150,200,250,300,350,400,450,500], "grid": false, "labelFlush": false, "labelPadding": 4, "titlePadding": 5}},
          "y": {"field": "f", "type": "quantitative", "scale": {"domain": [0, 0.08], "nice": false},
                "axis": {"title": "Friction coefficient", "values": [0,0.01,0.02,0.03,0.04,0.05,0.06,0.07,0.08], "grid": true, "labelPadding": 2, "titlePadding": 10, "labelExpr": "replace(format(datum.value, '.2~f'), '.', ',')"}},
          "color": {"field": "s", "type": "nominal", "scale": {"domain": ["0.33","0.83","0.42","1.72"], "range": ["#8a8a8a","#8f8f8f","#000000","#000000"]}, "legend": null}
        }
      },
      {
        "data": {"name": "bLabels"},
        "mark": {"type": "text", "font": "'Liberation Serif', 'Times New Roman', serif", "fontSize": 19, "align": "center", "baseline": "middle", "color": "#111"},
        "encoding": {
          "x": {"field": "c", "type": "quantitative"},
          "y": {"field": "f", "type": "quantitative"},
          "text": {"field": "t"}
        }
      }
    ]
  }
]
}
